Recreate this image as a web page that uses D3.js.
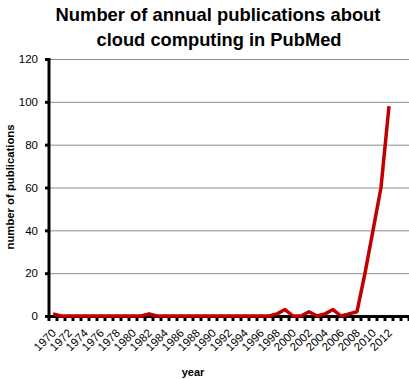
<!DOCTYPE html>
<html><head><meta charset="utf-8">
<script src="https://cdn.jsdelivr.net/npm/d3@7"></script>
<style>body{margin:0;background:#fff}svg{display:block}</style>
</head><body>
<svg id="c" width="409" height="379"></svg>
<script>
// categories (years) on the axis, including trailing empty slots
const categories = d3.range(1970, 2015);
// data years and annual publication counts
const years = d3.range(1970, 2013);
const publications = [1,0,0,0,0,0,0,0,0,0,0,0,1,0,0,0,0,0,0,0,0,0,0,0,0,0,0,0,1,3,0,0,2,0,1,3,0,1,2,20,40,60,98];
const tickLabels = d3.range(1970, 2013, 2);
const yTicks = [0,20,40,60,80,100,120];

const svg = d3.select("#c");
const m = {l:49, r:409, t:59, b:316};
const x = d3.scaleBand().domain(categories).range([m.l, m.r]);
const y = d3.scaleLinear().domain([0,120]).range([m.b, m.t]);

// title
const title = svg.append("text").attr("text-anchor","middle").attr("font-family","Liberation Sans, Arial").attr("font-weight","bold").attr("font-size",19).attr("fill","#000");
title.append("tspan").attr("x",218).attr("y",21).attr("textLength",325).attr("lengthAdjust","spacingAndGlyphs").text("Number of annual  publications  about");
title.append("tspan").attr("x",219).attr("y",46).attr("textLength",245).attr("lengthAdjust","spacingAndGlyphs").text("cloud computing  in PubMed");

// gridlines
svg.append("g").selectAll("line").data(yTicks.filter(d=>d>0)).join("line")
  .attr("x1",m.l).attr("x2",m.r).attr("y1",d=>y(d)+0.5).attr("y2",d=>y(d)+0.5)
  .attr("stroke","#8c8c8c").attr("stroke-width",1);

// y axis
const ya = svg.append("g").attr("transform",`translate(${m.l},0)`)
  .call(d3.axisLeft(y).tickValues(yTicks).tickSize(4).tickPadding(7));
ya.select(".domain").remove();
ya.selectAll(".tick line").attr("stroke","#000").attr("stroke-width",3);
ya.selectAll("text").attr("font-family","Liberation Sans, Arial").attr("font-size",11.5).attr("fill","#000");
svg.append("line").attr("x1",m.l).attr("x2",m.l).attr("y1",m.t-1).attr("y2",m.b+1).attr("stroke","#000").attr("stroke-width",3);

// x axis
const xa = svg.append("g").attr("transform",`translate(0,${m.b})`);
const bounds = d3.range(0, categories.length+1).map(i => m.l + i*x.step());
xa.selectAll("line.tk").data(bounds).join("line").attr("class","tk")
  .attr("x1",d=>d).attr("x2",d=>d).attr("y1",0).attr("y2",5)
  .attr("stroke","#000").attr("stroke-width",3);
xa.append("line").attr("x1",m.l-1).attr("x2",m.r).attr("y1",0.5).attr("y2",0.5).attr("stroke","#000").attr("stroke-width",3);
xa.selectAll("text").data(tickLabels).join("text")
  .attr("transform",d=>`translate(${x(d)+x.bandwidth()/2-2},${12}) rotate(-45)`)
  .attr("text-anchor","end").attr("dy","0.7em")
  .attr("font-family","Liberation Sans, Arial").attr("font-size",11.5).attr("fill","#000")
  .text(d=>d);

// axis titles
svg.append("text").attr("x",193).attr("y",376).attr("text-anchor","middle")
  .attr("font-family","Liberation Sans, Arial").attr("font-weight","bold").attr("font-size",11).text("year");
svg.append("text").attr("transform","translate(10,187) rotate(-90)").attr("text-anchor","middle")
  .attr("font-family","Liberation Sans, Arial").attr("font-weight","bold").attr("font-size",10)
  .attr("textLength",125).attr("lengthAdjust","spacingAndGlyphs").attr("dy","0.35em").text("number of publications");

// line
const line = d3.line().x((d,i)=>x(years[i])+x.bandwidth()/2).y(d=>y(d));
svg.append("path").datum(publications).attr("d",line)
  .attr("fill","none").attr("stroke","#c00000").attr("stroke-width",3.5).attr("stroke-linejoin","round");
</script>
</body></html>
